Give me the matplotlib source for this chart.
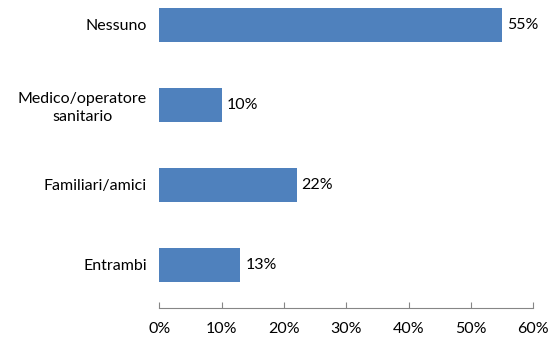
import matplotlib.pyplot as plt
from matplotlib.ticker import PercentFormatter

# ---- Data ----
categories = ['Entrambi', 'Familiari/amici', 'Medico/operatore\nsanitario', 'Nessuno']
values = [13, 22, 10, 55]
xticks = [0, 10, 20, 30, 40, 50, 60]

bar_color = '#4F81BD'
axis_color = '#868686'
plt.rcParams['font.family'] = ['Lato', 'DejaVu Sans']
fs = 11.5

fig = plt.figure(figsize=(5.59, 3.37), dpi=100)
ax = fig.add_axes([0.2852, 0.0861, 0.6690, 0.9139])

pos = range(len(categories))
bars = ax.barh(pos, values, height=0.42, color=bar_color)

# value labels at the bar ends
for b, v in zip(bars, values):
    ax.annotate(f'{v}%', (b.get_width(), b.get_y() + b.get_height() / 2),
                xytext=(3.5, 0), textcoords='offset points',
                va='center', ha='left', fontsize=fs, color='black')

ax.set_xlim(0, 60)
ax.set_ylim(-0.5375, 3.3125)
ax.set_xticks(xticks)
ax.xaxis.set_major_formatter(PercentFormatter(decimals=0))
ax.set_yticks(list(pos))
ax.set_yticklabels(categories, multialignment='center', linespacing=1.35)

for s in ['top', 'right', 'left']:
    ax.spines[s].set_visible(False)
ax.spines['bottom'].set_color(axis_color)
ax.tick_params(axis='x', direction='in', length=4, color=axis_color,
               labelsize=fs, pad=10)
ax.tick_params(axis='y', length=0, labelsize=fs, pad=9)

fig.savefig('out.png', dpi=100)
